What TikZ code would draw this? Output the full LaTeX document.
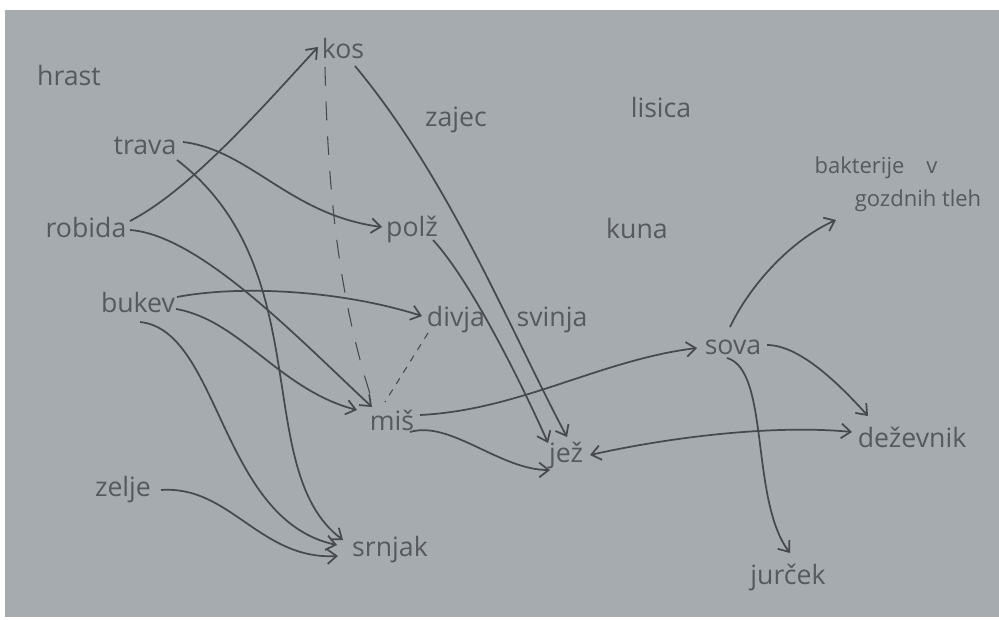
\documentclass[tikz,border=0pt]{standalone}
\usepackage{fontspec}
\setmainfont{Open Sans}
\usetikzlibrary{arrows.meta,calc}
\definecolor{paper}{RGB}{166,171,175}
\definecolor{pencil}{RGB}{70,74,78}
\definecolor{pentext}{RGB}{86,90,95}
\tikzset{
  lbl/.style={inner sep=0pt, text=pentext, font=\fontsize{20}{22}\selectfont},
  lblsmall/.style={inner sep=0pt, text=pentext, font=\fontsize{16.5}{18}\selectfont},
  arr/.style={draw=pencil, line width=1.3pt, -{Straight Barb[length=7pt,width=11pt]}},
  dbl/.style={draw=pencil, line width=1.3pt, {Straight Barb[length=7pt,width=11pt]}-{Straight Barb[length=7pt,width=11pt]}},
  longdash/.style={draw=pencil, line width=0.8pt, dash pattern=on 14pt off 12pt},
  shortdash/.style={draw=pencil, line width=0.8pt, dash pattern=on 5pt off 5pt}
}
\begin{document}
\begin{tikzpicture}[x=0.75pt,y=-0.75pt]
\useasboundingbox (0,0) rectangle (999,619);
\fill[white] (0,0) rectangle (999,619);
\fill[paper] (5,10) rectangle (999,617);

\node[lbl] (hrast) at (69,75) {hrast};
\node[lbl] (kos) at (343,48) {kos};
\node[lbl] (zajec) at (456,120) {zajec};
\node[lbl] (lisica) at (661,107) {lisica};
\node[lbl] (trava) at (145,146) {trava};
\node[lblsmall] (bakta) at (876,168) {bakterije\quad v};
\node[lblsmall] (baktb) at (918,201) {gozdnih tleh};
\node[lbl] (robida) at (86,227) {robida};
\node[lbl] (polz) at (412,229) {polž};
\node[lbl] (kuna) at (637,228) {kuna};
\node[lbl] (bukev) at (138,302) {bukev};
\node[lbl] (divja) at (456,320) {divja};
\node[lbl] (svinja) at (552,320) {svinja};
\node[lbl] (sova) at (733,347) {sova};
\node[lbl] (mis) at (392,420) {miš};
\node[lbl] (jez) at (566,455) {jež};
\node[lbl] (dezevnik) at (912,437) {deževnik};
\node[lbl] (zelje) at (123,490) {zelje};
\node[lbl] (srnjak) at (390,550) {srnjak};
\node[lbl] (jurcek) at (788,577) {jurček};

% dashed links
\draw[longdash] ($(kos)+(-18,19)$) .. controls +(3,133) and +(-31,-97) .. ($(mis)+(-21,-23)$);
\draw[shortdash] ($(divja)+(-28,13)$) -- ($(mis)+(-7,-18)$);

% arrows
\draw[arr] ($(robida)+(44,-6)$) .. controls +(60,-31) and +(-58,63) .. ($(kos)+(-25,-1)$);
\draw[arr] ($(trava)+(38,-4)$) .. controls +(67,8) and +(-92,-12) .. ($(polz)+(-30,-2)$);
\draw[arr] ($(trava)+(32,14)$) .. controls +(143,110) and +(-93,-70) .. ($(srnjak)+(-47,-10)$);
\draw[arr] ($(robida)+(44,3)$) .. controls +(70,5) and +(-72,-67) .. ($(mis)+(-20,-13)$);
\draw[arr] ($(bukev)+(39,-5)$) .. controls +(63,-12) and +(-82,-26) .. ($(divja)+(-34,-4)$);
\draw[arr] ($(bukev)+(38,7)$) .. controls +(64,11) and +(-77,-20) .. ($(mis)+(-35,-10)$);
\draw[arr] ($(bukev)+(2,20)$) .. controls +(80,8) and +(-117,-25) .. ($(srnjak)+(-53,-5)$);
\draw[arr] ($(zelje)+(38,0)$) .. controls +(69,-5) and +(-78,4) .. ($(srnjak)+(-52,6)$);
\draw[arr] ($(kos)+(12,18)$) .. controls +(95,114) and +(-57,-107) .. ($(jez)+(1,-18)$);
\draw[arr] ($(polz)+(21,11)$) .. controls +(37,40) and +(-28,-63) .. ($(jez)+(-18,-12)$);
\draw[arr] ($(mis)+(18,12)$) .. controls +(40,-12) and +(-50,0) .. ($(jez)+(-16,15)$);
\draw[arr] ($(mis)+(28,-5)$) .. controls +(100,-5) and +(-97,12) .. ($(sova)+(-36,1)$);
\draw[arr] ($(sova)+(-3,-20)$) .. controls +(20,-42) and +(-45,20) .. ($(baktb)+(-82,19)$);
\draw[arr] ($(sova)+(34,-2)$) .. controls +(33,0) and +(-28,-31) .. ($(dezevnik)+(-44,-21)$);
\draw[arr] ($(sova)+(-6,11)$) .. controls +(43,12) and +(-40,-53) .. ($(jurcek)+(2,-24)$);
\draw[dbl] ($(jez)+(24,0)$) .. controls +(90,-20) and +(-72,-7) .. ($(dezevnik)+(-60,-5)$);
\end{tikzpicture}
\end{document}
